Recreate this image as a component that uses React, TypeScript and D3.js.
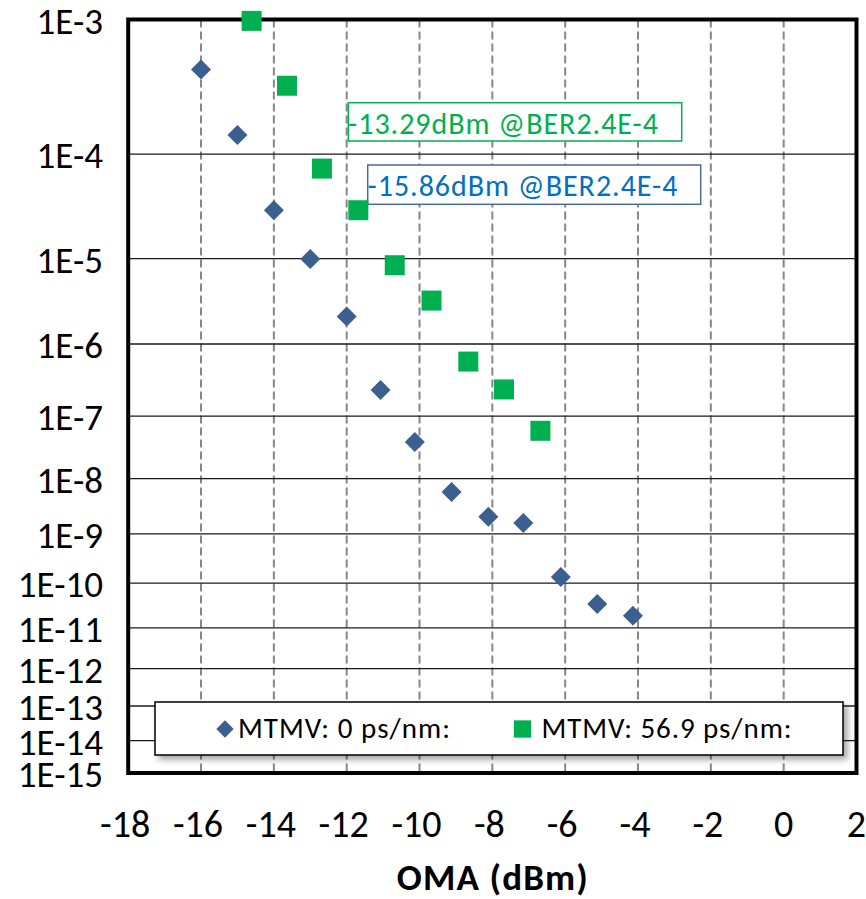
import React from 'react';
import * as d3 from 'd3';

// OMA (dBm) vs BER, two dispersion settings
const omaBlue = [-16, -15, -14, -13, -12, -11.07, -10.13, -9.12, -8.11, -7.15, -6.12, -5.12, -4.14];
const berBlue = [4.6e-4, 1.45e-4, 3.1e-5, 9.9e-6, 2.2e-6, 2.4e-7, 4.0e-8, 5.9e-9, 2.1e-9, 1.6e-9, 1.35e-10, 3.5e-11, 1.9e-11];

const omaGreen = [-14.61, -13.64, -12.68, -11.68, -10.68, -9.67, -8.66, -7.68, -6.68];
const berGreen = [9.8e-4, 3.5e-4, 7.5e-5, 3.1e-5, 8.5e-6, 3.4e-6, 5.9e-7, 2.45e-7, 6.0e-8];

const xTicks = [-18, -16, -14, -12, -10, -8, -6, -4, -2, 0, 2];
const berExponents = [3, 4, 5, 6, 7, 8, 9, 10, 11, 12, 13, 14, 15];

const seriesNames = ['MTMV: 0 ps/nm:', 'MTMV: 56.9 ps/nm:'];
const annotations = ['-13.29dBm @BER2.4E-4', '-15.86dBm @BER2.4E-4'];

const BLUE = '#3b5f8f';
const GREEN = '#00b050';
const FONT = 'Calibri, Carlito, Lato, sans-serif';

const W = 866;
const H = 899;
const left = 128.2;
const right = 856.5;
const top = 19.5;
const bottom = 773;

const App = () => {
  const x = d3.scaleLinear().domain([-18, 2]).range([left, right]);
  // BER axis: linear in log10(-log10(BER))
  const yq = d3.scaleLinear().domain([Math.log10(3), Math.log10(15)]).range([top, bottom]);
  const y = (ber: number) => yq(Math.log10(-Math.log10(ber)));

  const diamond = d3.symbol(d3.symbolSquare, 200)();
  const square = d3.symbol(d3.symbolSquare, 400)();
  const legDiamond = d3.symbol(d3.symbolSquare, 150)();
  const legSquare = d3.symbol(d3.symbolSquare, 300)();

  return (
    <div style={{ position: 'absolute', left: 0, top: 0 }}>
      <svg width={W} height={H} style={{ display: 'block', background: '#fff' }} fontFamily={FONT}>
        <defs>
          <filter id="shadow" x="-5%" y="-20%" width="115%" height="160%">
            <feDropShadow dx="4" dy="4" stdDeviation="3" floodColor="#000" floodOpacity="0.35" />
          </filter>
        </defs>

        {/* vertical dashed grid */}
        {xTicks.slice(1, -1).map((t) => (
          <line key={'vx' + t} x1={x(t)} x2={x(t)} y1={top} y2={bottom}
            stroke="#878787" strokeWidth={2} strokeDasharray="8,4" />
        ))}
        {/* horizontal grid */}
        {berExponents.slice(1, -1).map((e) => (
          <line key={'hy' + e} x1={left} x2={right} y1={y(Math.pow(10, -e))} y2={y(Math.pow(10, -e))}
            stroke="#1a1a1a" strokeWidth={1.3} />
        ))}

        {/* frame */}
        <rect x={left} y={top} width={right - left} height={bottom - top} fill="none" stroke="#000" strokeWidth={4} />

        {/* y tick labels */}
        {berExponents.map((e) => (
          <text key={'yl' + e} x={103} y={y(Math.pow(10, -e)) + 14} textAnchor="end" fontSize={37} fill="#000">
            {'1E-' + e}
          </text>
        ))}
        {/* x tick labels */}
        {xTicks.map((t) => (
          <text key={'xl' + t} x={x(t) - (t < 0 ? 3 : 0)} y={837} textAnchor="middle" fontSize={38} fill="#000">
            {t}
          </text>
        ))}
        <text x={(left + right) / 2} y={890} textAnchor="middle" fontSize={37} fontWeight="bold" fill="#000"
          textLength={191} lengthAdjust="spacing">
          OMA (dBm)
        </text>

        {/* annotation boxes */}
        <rect x={348.3} y={102.7} width={333.4} height={38.3} fill="#fff" stroke={GREEN} strokeWidth={1.5} />
        <text x={348} y={133.5} fontSize={30} fill={GREEN} textLength={310} lengthAdjust="spacing">{annotations[0]}</text>
        <rect x={367.7} y={165} width={333} height={39.3} fill="#fff" stroke="#4a6a9a" strokeWidth={1.5} />
        <text x={367.5} y={196} fontSize={30} fill="#0070c0" textLength={310} lengthAdjust="spacing">{annotations[1]}</text>

        {/* data */}
        {omaBlue.map((v, i) => (
          <path key={'b' + i} d={diamond ?? ''} transform={`translate(${x(v)},${y(berBlue[i])}) rotate(45)`} fill={BLUE} />
        ))}
        {omaGreen.map((v, i) => (
          <path key={'g' + i} d={square ?? ''} transform={`translate(${x(v)},${y(berGreen[i])})`} fill={GREEN} />
        ))}

        {/* legend */}
        <rect x={155} y={702} width={688} height={53} fill="#fff" stroke="#000" strokeWidth={1.5} filter="url(#shadow)" />
        <path d={legDiamond ?? ''} transform="translate(225,729) rotate(45)" fill={BLUE} />
        <text x={238} y={737.5} fontSize={29} fill="#000" textLength={212} lengthAdjust="spacing">{seriesNames[0]}</text>
        <path d={legSquare ?? ''} transform="translate(522.5,729)" fill={GREEN} />
        <text x={541.5} y={737.5} fontSize={29} fill="#000" textLength={250} lengthAdjust="spacing">{seriesNames[1]}</text>
      </svg>
    </div>
  );
};

export default App;
